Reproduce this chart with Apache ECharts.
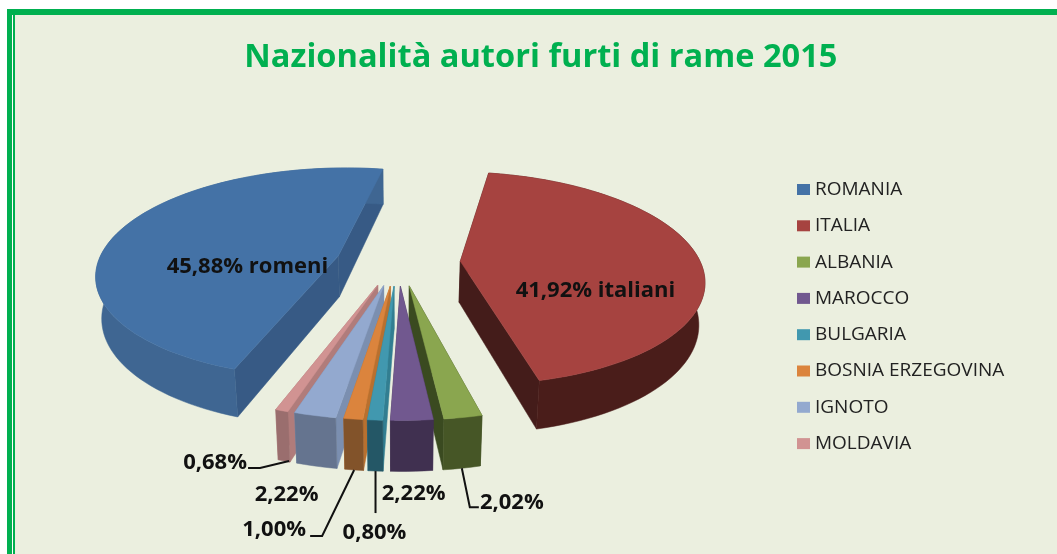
<!DOCTYPE html>
<html><head><meta charset="utf-8">
<style>html,body{margin:0;padding:0;background:#fff}#c{width:1057px;height:554px}</style>
<script src="https://cdn.jsdelivr.net/npm/echarts@6/dist/echarts.min.js"></script>
</head><body><div id="c"></div>
<script>
const titleText = 'Nazionalità autori furti di rame 2015';
const categories = ['ROMANIA','ITALIA','ALBANIA','MAROCCO','BULGARIA','BOSNIA ERZEGOVINA','IGNOTO','MOLDAVIA'];
const shares = [45.88,41.92,2.02,2.22,0.80,1.00,2.22,0.68];
const labels = ['45,88% romeni','41,92% italiani','2,02%','2,22%','0,80%','1,00%','2,22%','0,68%'];
const topColors  = ['#4472a6','#a64340','#8aa64f','#71588f','#4198af','#db843d','#93a9cf','#d19392'];
const wallColors = ['#3f6692','#4a1d1a','#465626','#403050','#245766','#82532a','#65748f','#9a6e6e'];
const sideColors = ['#375a85','#441c1a','#3a4a20','#403050','#327e91','#b8702f','#7b8fb0','#b07c7b'];
const labelOffsets = [[25,24],[11,31],[50,34],[2,22],[-1,62],[-80,60],[-30,28],[-69,2]];
const leaders = [null,null,[[0,0],[8,39],[17,39]],null,[[0,0],[0,42]],[[0,0],[-32,66],[-44,66]],null,[[5,0],[-24,7],[-36,7]]];
const drawOrder = [0,1,7,6,5,4,2,3];

const P = {cx:398, cy:262, rx:240, ry:104, persp:0.16, depth:41, explodeX:0.26, explodeY:0.225, startDeg:199.5, bottomScale:0.98};
const total = shares.reduce((a,b)=>a+b,0);
const starts = []; shares.reduce((acc,v,i)=>{starts[i]=acc; return acc+v/total*360;}, P.startDeg);
const rad = d => d*Math.PI/180;

function project(u,v,low){
  const f = 1/(1-P.persp*v);
  const s = low ? P.bottomScale : 1;
  return [P.cx + P.rx*u*f*s, P.cy + P.ry*v*f + (low ? P.depth*f : 0)];
}
function renderSlice(idx){
  return function(params, api){
    const value = api.value(0);
    const a0 = starts[idx], a1 = a0 + value/total*360, mid = (a0+a1)/2;
    const ou = P.explodeX*Math.sin(rad(mid)), ov = -P.explodeY*Math.cos(rad(mid));
    const pt = (deg,r,low)=>project(ou+r*Math.sin(rad(deg)), ov-r*Math.cos(rad(deg)), low);
    const arc=[]; const steps=Math.max(2,Math.ceil((a1-a0)/2));
    for(let i=0;i<=steps;i++) arc.push(a0+(a1-a0)*i/steps);
    const poly=(points,fill)=>({type:'polygon',shape:{points},style:{fill,stroke:fill,lineWidth:0.5}});
    const children=[];
    const sideA=[pt(a0,0,false),pt(a0,1,false),pt(a0,1,true),pt(a0,0,true)];
    const sideB=[pt(a1,0,false),pt(a1,1,false),pt(a1,1,true),pt(a1,0,true)];
    children.push(poly(sideA,sideColors[idx]));
    children.push(poly(sideB,sideColors[idx]));
    children.push(poly(arc.map(d=>pt(d,1,false)).concat(arc.slice().reverse().map(d=>pt(d,1,true))),wallColors[idx]));
    children.push(poly([pt(a0,0,false)].concat(arc.map(d=>pt(d,1,false))),topColors[idx]));
    const anchor = idx<2 ? pt(mid,0.52,false) : pt(mid,1,true);
    if(leaders[idx]){
      children.push({type:'polyline',z2:50,shape:{points:leaders[idx].map(o=>[anchor[0]+o[0],anchor[1]+o[1]])},
        style:{fill:'none',stroke:'#111',lineWidth:2}});
    }
    children.push({type:'text',z2:50,style:{text:labels[idx],x:anchor[0]+labelOffsets[idx][0],y:anchor[1]+labelOffsets[idx][1],
      fill:'#111',font:'700 22px "Open Sans"',align:'center',verticalAlign:'middle'}});
    return {type:'group',children};
  };
}
const chart = echarts.init(document.getElementById('c'),null,{renderer:'canvas'});
chart.setOption({
  animation:false,
  backgroundColor:'#ffffff',
  graphic:[
    {type:'rect',z:-10,shape:{x:7,y:9,width:1050,height:545},style:{fill:'#00b050'}},
    {type:'rect',z:-9,shape:{x:12,y:15,width:1045,height:539},style:{fill:'#ffffff'}},
    {type:'rect',z:-8,shape:{x:13,y:15,width:1044,height:539},style:{fill:'#00b050'}},
    {type:'rect',z:-7,shape:{x:15,y:15,width:1042,height:539},style:{fill:'#ebefdf'}}
  ],
  title:{text:titleText,left:'50.7%',textAlign:'center',top:36,
    textStyle:{color:'#00b050',fontFamily:'Open Sans',fontWeight:700,fontSize:32.6}},
  legend:{orient:'vertical',left:792,top:175,itemWidth:13,itemHeight:11,itemGap:17.3,icon:'rect',
    data:categories,textStyle:{color:'#222',fontFamily:'Open Sans',fontSize:19,padding:0}},
  tooltip:{show:false},
  series:drawOrder.map(i=>({
    type:'custom',name:categories[i],coordinateSystem:'none',silent:true,
    itemStyle:{color:topColors[i]},
    data:[[shares[i]]],
    encode:{value:0},
    renderItem:renderSlice(i)
  }))
});
</script></body></html>
